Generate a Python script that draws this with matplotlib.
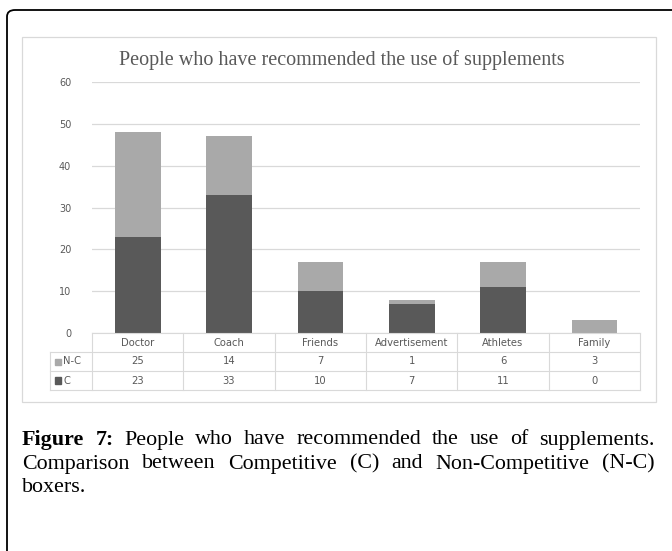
import matplotlib.pyplot as plt
import numpy as np
from matplotlib.patches import FancyBboxPatch, Rectangle

# data
categories = ['Doctor', 'Coach', 'Friends', 'Advertisement', 'Athletes', 'Family']
nc_values = [25, 14, 7, 1, 6, 3]
c_values = [23, 33, 10, 7, 11, 0]
series_names = ['N-C', 'C']
title = 'People who have recommended the use of supplements'
caption_lines = [
    [('Figure 7:', 'bold'), ('People who have recommended the use of supplements.', 'normal')],
    [('Comparison between Competitive (C) and Non-Competitive (N-C)', 'normal')],
    [('boxers.', 'normal')],
]

W, H = 672, 551
dark = '#595959'
light = '#a9a9a9'
grid_c = '#d9d9d9'
txt_c = '#595959'


def fx(x):
    return x / W


def fy(y):
    return 1 - y / H


fig = plt.figure(figsize=(W / 100, H / 100), dpi=100)

# outer rounded frame (runs off the right and bottom edges)
frame = FancyBboxPatch((fx(7), fy(600)), fx(700), fy(10) - fy(600),
                       boxstyle='round,pad=0,rounding_size=0.012',
                       transform=fig.transFigure, fill=False,
                       edgecolor='black', linewidth=1.3, clip_on=False)
fig.patches.append(frame)

# chart box
fig.patches.append(Rectangle((fx(22), fy(402)), fx(656) - fx(22), fy(37) - fy(402),
                             transform=fig.transFigure, fill=False,
                             edgecolor=grid_c, linewidth=0.9))

x0, x1 = 92, 640
ytop, ybot = 82, 333
ax = fig.add_axes([fx(x0), fy(ybot), fx(x1) - fx(x0), fy(ytop) - fy(ybot)])
x = np.arange(len(categories))
ax.bar(x, c_values, width=0.5, color=dark, zorder=3)
ax.bar(x, nc_values, width=0.5, bottom=c_values, color=light, zorder=3)
ax.set_xlim(-0.5, len(categories) - 0.5)
ax.set_ylim(0, 60)
ax.set_yticks(range(0, 61, 10))
ax.set_xticks([])
ax.yaxis.grid(True, color=grid_c, linewidth=0.9, zorder=0)
for s in ax.spines.values():
    s.set_visible(False)
ax.tick_params(axis='y', length=0, pad=15, labelsize=7, labelcolor=txt_c)
ax.set_facecolor('none')

fig.text(0.5 * (118 + 565) / W, fy(60), title, ha='center', va='center',
         fontsize=14.5, color=txt_c, family='Liberation Serif')

# data table under the axis
col_w = (x1 - x0) / len(categories)
rows_y = [333, 352, 371, 390]
lw = 0.8
fig.add_artist(plt.Line2D([fx(x0), fx(x1)], [fy(333), fy(333)], color=grid_c, lw=lw))
for yy in rows_y[1:]:
    fig.add_artist(plt.Line2D([fx(50), fx(x1)], [fy(yy), fy(yy)], color=grid_c, lw=lw))
for i in range(len(categories) + 1):
    xx = x0 + i * col_w
    fig.add_artist(plt.Line2D([fx(xx), fx(xx)], [fy(333), fy(390)], color=grid_c, lw=lw))
fig.add_artist(plt.Line2D([fx(50), fx(50)], [fy(352), fy(390)], color=grid_c, lw=lw))

for i, cat in enumerate(categories):
    cx = fx(x0 + (i + 0.5) * col_w)
    fig.text(cx, fy(342.5), cat, ha='center', va='center', fontsize=7.2, color=txt_c)
    fig.text(cx, fy(361.5), str(nc_values[i]), ha='center', va='center', fontsize=7.2, color=txt_c)
    fig.text(cx, fy(380.5), str(c_values[i]), ha='center', va='center', fontsize=7.2, color=txt_c)

for name, yy, col in [(series_names[0], 361.5, light), (series_names[1], 380.5, dark)]:
    fig.patches.append(Rectangle((fx(55), fy(yy + 3)), fx(6), fy(yy - 3) - fy(yy + 3),
                                 transform=fig.transFigure, color=col))
    fig.text(fx(63), fy(yy), name, ha='left', va='center', fontsize=7.2, color=txt_c)

# justified caption, font size chosen so line 2 nearly fills the width
fig.canvas.draw()
renderer = fig.canvas.get_renderer()
left, right = 22, 655
probe = fig.text(0, 0, caption_lines[1][0][0], fontsize=12, family='Liberation Serif')
cap_size = 12 * (right - left) / probe.get_window_extent(renderer).width * 0.93
probe.remove()

cap_y = [440, 464, 488]
for li, segs in enumerate(caption_lines):
    words = []
    for text, weight in segs:
        for w in text.split(' '):
            words.append((w, weight))
    arts = []
    for w, weight in words:
        t = fig.text(0, fy(cap_y[li]), w, ha='left', va='center', fontsize=cap_size,
                     family='Liberation Serif', fontweight=weight, color='black')
        arts.append(t)
    widths = [a.get_window_extent(renderer).width for a in arts]
    if li < len(caption_lines) - 1:
        gap = (right - left - sum(widths)) / (len(words) - 1)
    else:
        gap = 4
    pos = left
    for a, wdt in zip(arts, widths):
        a.set_x(fx(pos))
        pos += wdt + gap

fig.savefig('out.png', dpi=100)
